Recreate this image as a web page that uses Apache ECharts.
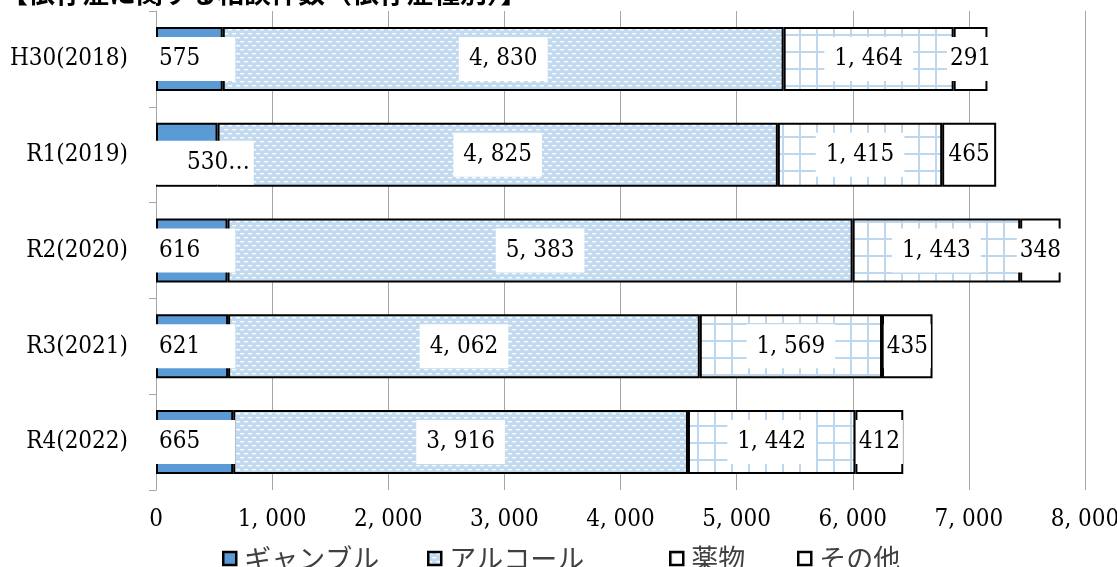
<!DOCTYPE html>
<html>
<head>
<meta charset="utf-8">
<script src="https://cdn.jsdelivr.net/npm/echarts@6/dist/echarts.min.js"></script>
<style>
html,body{margin:0;padding:0;background:#fff;}
#chart{width:1117px;height:567px;}
</style>
</head>
<body>
<div id="chart"></div>
<script>
const titleText = '【依存症に関する相談件数（依存症種別）】';
const categories = ['H30(2018)', 'R1(2019)', 'R2(2020)', 'R3(2021)', 'R4(2022)'];
const seriesNames = ['ギャンブル', 'アルコール', '薬物', 'その他'];
const gambling = [575, 530, 616, 621, 665];
const alcohol = [4830, 4825, 5383, 4062, 3916];
const drugs = [1464, 1415, 1443, 1569, 1442];
const others = [291, 465, 348, 435, 412];
const xTicks = [0, 1000, 2000, 3000, 4000, 5000, 6000, 7000, 8000];

function fmt(v) { return String(v).replace(/\B(?=(\d{3})+(?!\d))/g, ', '); }

function alcoholPattern() {
  const c = document.createElement('canvas');
  c.width = 8; c.height = 8;
  const g = c.getContext('2d');
  g.fillStyle = '#C2DAF0'; g.fillRect(0, 0, 8, 8);
  g.fillStyle = '#ffffff';
  g.fillRect(0, 1, 4, 1.4);
  g.fillRect(4, 5, 4, 1.4);
  return { image: c, repeat: 'repeat' };
}
function drugPattern() {
  const c = document.createElement('canvas');
  c.width = 17; c.height = 17;
  const g = c.getContext('2d');
  g.fillStyle = '#ffffff'; g.fillRect(0, 0, 17, 17);
  g.fillStyle = '#BDD7EE';
  g.fillRect(0, 0, 2, 17);
  g.fillRect(0, 0, 17, 2);
  return { image: c, repeat: 'repeat' };
}

const serif = '"DejaVu Serif Condensed", "Liberation Serif", "Noto Sans CJK JP", serif';
const baseLabel = {
  show: true, color: '#000', fontFamily: serif, fontSize: 24,
  backgroundColor: '#fff', lineHeight: 26,
  formatter: p => fmt(p.value)
};
const border = { borderColor: '#000', borderWidth: 2 };

const gamblingData = gambling.map((v, i) => i === 1
  ? { value: v, label: { formatter: fmt(v) + '…', padding: [9, 4, 9, 31], offset: [0, 8] } }
  : v);

const chart = echarts.init(document.getElementById('chart'), null, { renderer: 'canvas' });
const legendCommon = {
  orient: 'horizontal', top: 540, itemWidth: 13, itemHeight: 13, itemGap: 0,
  icon: 'rect',
  itemStyle: { borderColor: '#000', borderWidth: 2.5 },
  textStyle: { fontSize: 27, color: '#404040', fontFamily: '"Noto Sans CJK JP", sans-serif', lineHeight: 27, padding: [0, 0, 0, 3] },
  selectedMode: false
};
const legendLefts = [217, 422, 664, 792];

chart.setOption({
  animation: false,
  backgroundColor: '#fff',
  title: {
    text: titleText, left: -4, top: -26,
    textStyle: { fontSize: 27, fontWeight: 'bold', color: '#000', fontFamily: '"Noto Sans CJK JP", sans-serif' }
  },
  legend: seriesNames.map((n, i) => Object.assign({}, legendCommon, { left: legendLefts[i], data: [n] })),
  grid: { left: 156, right: 32, top: 11, bottom: 77, containLabel: false, outerBoundsMode: 'none' },
  xAxis: {
    type: 'value', min: 0, max: 8000, interval: 1000,
    axisLine: { show: false }, axisTick: { show: false },
    splitLine: { show: true, lineStyle: { color: '#A6A6A6', width: 1 } },
    axisLabel: {
      margin: 18, fontSize: 24, color: '#000', fontFamily: serif,
      formatter: v => xTicks.includes(v) ? fmt(v) : ''
    }
  },
  yAxis: {
    type: 'category', data: categories, inverse: true,
    axisLine: { show: true, lineStyle: { color: '#A6A6A6', width: 1 } },
    axisTick: { show: true, length: 7, lineStyle: { color: '#A6A6A6' } },
    axisLabel: { margin: 28, fontSize: 24, color: '#000', fontFamily: serif }
  },
  series: [
    {
      name: seriesNames[0], type: 'bar', stack: 'total', barWidth: 64,
      data: gamblingData,
      itemStyle: Object.assign({ color: '#5B9BD5' }, border),
      label: Object.assign({}, baseLabel, { position: 'insideLeft', distance: 0, padding: [9, 35, 9, 3] })
    },
    {
      name: seriesNames[1], type: 'bar', stack: 'total', barWidth: 64,
      data: alcohol,
      itemStyle: Object.assign({ color: alcoholPattern() }, border),
      label: Object.assign({}, baseLabel, { position: 'inside', padding: [9, 10] })
    },
    {
      name: seriesNames[2], type: 'bar', stack: 'total', barWidth: 64,
      data: drugs,
      itemStyle: Object.assign({ color: drugPattern() }, border),
      label: Object.assign({}, baseLabel, { position: 'inside', padding: [9, 10] })
    },
    {
      name: seriesNames[3], type: 'bar', stack: 'total', barWidth: 64,
      data: others,
      itemStyle: Object.assign({ color: '#ffffff' }, border),
      label: Object.assign({}, baseLabel, { position: 'inside', padding: [9, 3] })
    }
  ]
});
</script>
</body>
</html>
